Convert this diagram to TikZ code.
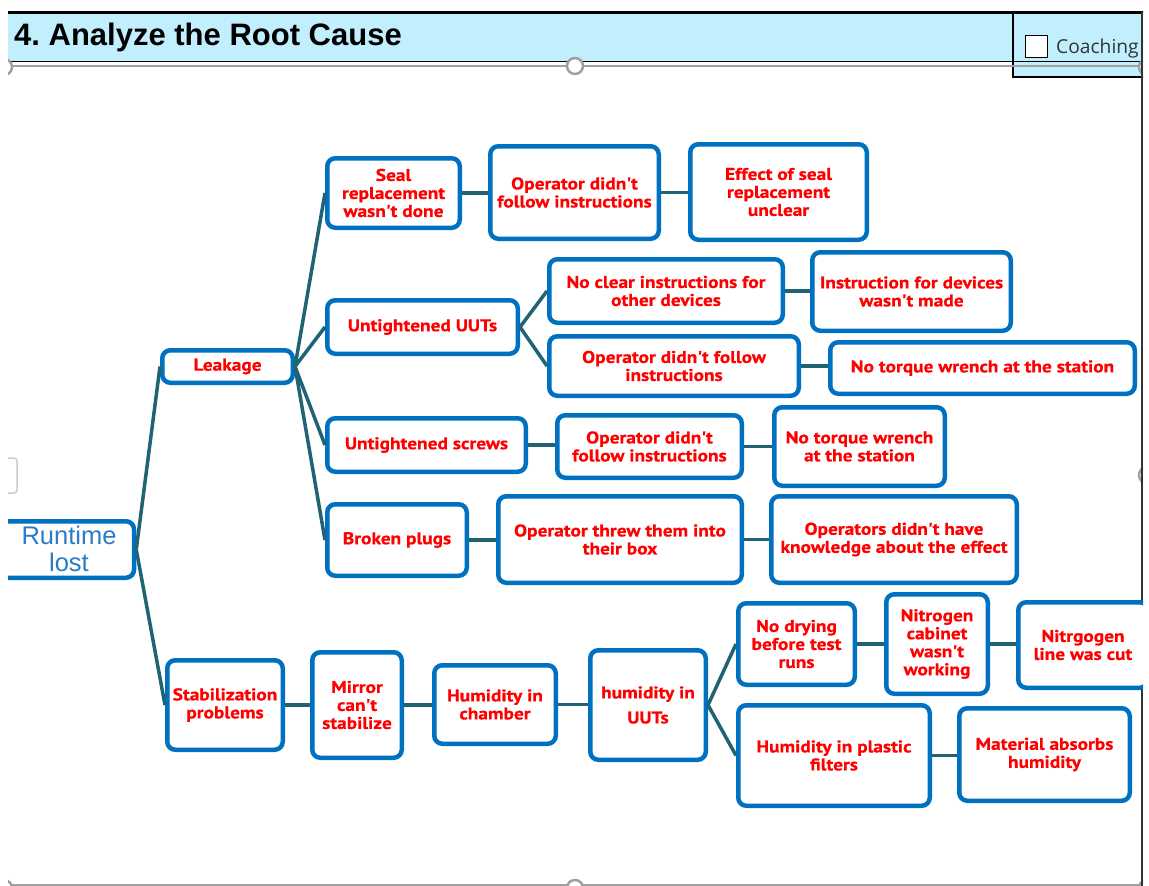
\documentclass[tikz,border=0pt]{standalone}
\usepackage{fontspec}
\newfontfamily\boxfont{PT Sans}[FakeStretch=1.14, FakeBold=0.6]
\newfontfamily\titlefont{Liberation Sans}
\newfontfamily\uifont{Open Sans}
\definecolor{boxblue}{HTML}{0070C0}
\definecolor{boxred}{HTML}{FF0000}
\definecolor{linkteal}{HTML}{1F6375}
\definecolor{headblue}{HTML}{C2EFFD}
\definecolor{rootblue}{HTML}{2B7CC6}
\definecolor{handlegray}{HTML}{A0A0A0}
\definecolor{uigray}{HTML}{333333}
\newcommand\mybox[6]{\node[box, minimum width={#3-#2-4.5}, minimum height={#5-#4-4.5}] (#1) at ({(#2+#3)/2},{(#4+#5)/2}) {#6};}
\newcommand\hlink[2]{\draw[link] (#1.east) -- (#1.east -| #2.west);}
\tikzset{
  box/.style={draw=boxblue, line width=4.5pt, rounded corners=8pt, fill=white, text=boxred,
    font={\boxfont\bfseries\fontsize{17}{18}\selectfont}, align=center, inner sep=0pt, outer sep=2.25pt},
  link/.style={draw=linkteal, line width=3.5pt},
  handle/.style={draw=handlegray, line width=2.5pt, fill=white},
}
\begin{document}
\frenchspacing
\begin{tikzpicture}[x=1pt,y=-1pt]
\useasboundingbox (0,0) rectangle (1149,886);
\begin{scope}
\clip (8,0) rectangle (1143,886);
% header
\fill[headblue] (8,12) rectangle (1143,62);
\draw[black, line width=1.5pt] (8,61.5) -- (1143,61.5);
\draw[black, line width=1.2pt, fill=headblue] (1013,12) rectangle (1160,77);
\draw[black, line width=1.2pt] (1013,61.5) -- (1143,61.5);
\draw[black, line width=2.5pt] (8,12.5) -- (1143,12.5);
\node[anchor=base west, inner sep=0pt, font={\titlefont\bfseries\fontsize{31}{31}\selectfont}] (title) at (14,45) {4. Analyze the Root Cause};
\node[draw=black, line width=1.5pt, fill=white, minimum width=22pt, minimum height=22pt, inner sep=0pt] (check) at (1036.5,46.5) {};
\node[anchor=base west, inner sep=0pt, text=uigray, font={\uifont\fontsize{19.2}{19.2}\selectfont}] (coach) at (1056,53) {Coaching};
% selection frame
\draw[handlegray, line width=2pt] (8,66) -- (1143,66);
\draw[handlegray, line width=2pt] (8,884.5) -- (1143,884.5);
\node[handle, circle, minimum size=16pt, inner sep=0pt] (h1) at (575,66) {};
\node[handle, circle, minimum size=16pt, inner sep=0pt] (h2) at (4,67) {};
\node[handle, circle, minimum size=16pt, inner sep=0pt] (h3) at (1147,67) {};
\node[handle, circle, minimum size=16pt, inner sep=0pt] (h4) at (575,888) {};
\node[handle, circle, minimum size=16pt, inner sep=0pt] (h5) at (4,888) {};
\node[handle, circle, minimum size=16pt, inner sep=0pt] (h6) at (1147,888) {};
\node[handle, circle, minimum size=16pt, inner sep=0pt] (h7) at (1147,475) {};
\draw[draw=black!20, line width=1.5pt, rounded corners=3pt] (-5,458) rectangle (17,493);
\draw[black!80, line width=2pt] (1141.5,12) -- (1141.5,886);
% boxes
\node[box, minimum width=162pt, minimum height=56.5pt] (root) at (53,549.5) {};
\node[text=rootblue, align=center, inner sep=0pt, font={\titlefont\fontsize{25.5}{27}\selectfont}] (roottext) at (69,549) {Runtime\\lost};
\mybox{leak}{160}{295}{348}{385}{Leakage}
\mybox{stab}{165}{285}{658}{752}{Stabilization\\problems}
\mybox{seal}{325}{462}{156}{230}{Seal\\replacement\\wasn't done}
\mybox{op1}{488}{661}{144}{241}{Operator didn't\\follow instructions}
\mybox{effect}{688}{869}{142}{242}{Effect of seal\\replacement\\unclear}
\mybox{uuts}{325}{520}{298}{356}{Untightened UUTs}
\mybox{noclear}{547}{785}{257}{325}{No clear instructions for\\other devices}
\mybox{instr}{810}{1013}{250}{333}{Instruction for devices\\wasn't made}
\mybox{op2}{547}{801}{334}{398}{Operator didn't follow\\instructions}
\mybox{notorq1}{828}{1137}{340}{396}{No torque wrench at the station}
\mybox{screws}{325}{528}{416}{474}{Untightened screws}
\mybox{op3}{555}{744}{413}{480}{Operator didn't\\follow instructions}
\mybox{notorq2}{772}{947}{405}{488}{No torque wrench\\at the station}
\mybox{broken}{325}{469}{502}{578}{Broken plugs}
\mybox{threw}{496}{744}{494}{585}{Operator threw them into\\their box}
\mybox{know}{769}{1019}{494}{585}{Operators didn't have\\knowledge about the effect}
\mybox{mirror}{310}{404}{650}{760}{Mirror\\can't\\stabilize}
\mybox{humch}{432}{558}{663}{746}{Humidity in\\chamber}
\mybox{humuut}{588}{708}{648}{762}{humidity in\\[7pt]UUTs}
\mybox{nodry}{736}{857}{601}{687}{No drying\\before test\\runs}
\mybox{nitro}{884}{990}{592}{696}{Nitrogen\\cabinet\\wasn't\\working}
\mybox{nline}{1016}{1150}{600}{690}{Nitrgogen\\line was cut}
\mybox{plastic}{736}{932}{703}{808}{Humidity in plastic\\filters}
\mybox{material}{957}{1132}{706}{803}{Material absorbs\\humidity}
% connectors
\draw[link] (root.east) -- (leak.west);
\draw[link] (root.east) -- (stab.west);
\draw[link] (leak.east) -- (seal.west);
\draw[link] (leak.east) -- (uuts.west);
\draw[link] (leak.east) -- (screws.west);
\draw[link] (leak.east) -- (broken.west);
\hlink{seal}{op1}
\hlink{op1}{effect}
\draw[link] (uuts.east) -- (noclear.west);
\draw[link] (uuts.east) -- (op2.west);
\hlink{noclear}{instr}
\hlink{op2}{notorq1}
\hlink{screws}{op3}
\hlink{op3}{notorq2}
\hlink{broken}{threw}
\hlink{threw}{know}
\hlink{stab}{mirror}
\hlink{mirror}{humch}
\hlink{humch}{humuut}
\draw[link] (humuut.east) -- (nodry.west);
\draw[link] (humuut.east) -- (plastic.west);
\hlink{nodry}{nitro}
\hlink{nitro}{nline}
\hlink{plastic}{material}
\end{scope}
\end{tikzpicture}
\end{document}
